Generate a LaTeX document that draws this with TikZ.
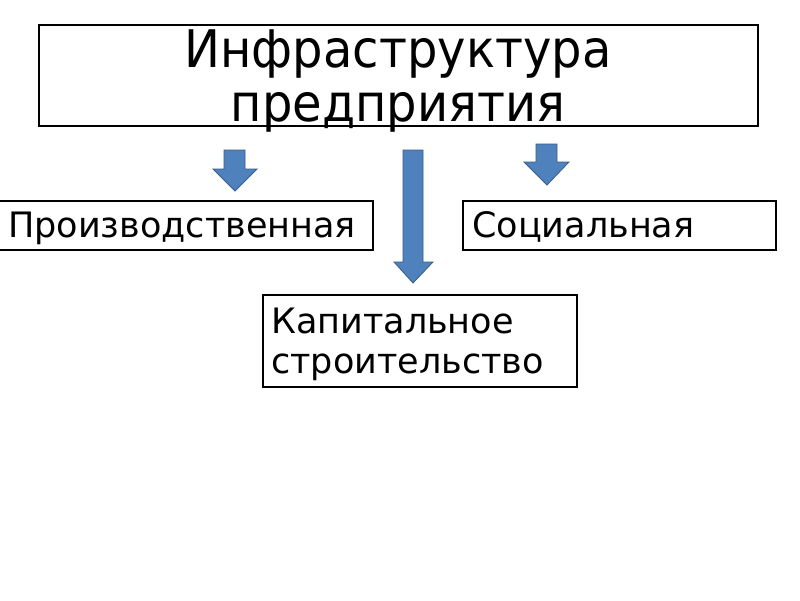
\documentclass[tikz,border=0pt]{standalone}
\usepackage{fontspec}
\setmainfont{DejaVu Sans}
\begin{document}
\begin{tikzpicture}[x=1pt,y=-1pt,
  box/.style={draw=black,line width=1.6pt,fill=none},
  big/.style={font=\fontsize{48}{53}\selectfont,inner sep=0pt,anchor=base},
  lbl/.style={font=\fontsize{35}{40}\selectfont,inner sep=0pt,anchor=base west},
  barrow/.style={fill=arrowfill,draw=arrowline,line width=0.8pt,line join=miter}]
\definecolor{arrowfill}{HTML}{4F81BD}
\definecolor{arrowline}{HTML}{385D8A}
\useasboundingbox (0,0) rectangle (800,600);
\fill[white] (0,0) rectangle (800,600);
% boxes
\draw[box] (39,25) rectangle (758,126);
\draw[box] (-3,201) rectangle (373,250);
\draw[box] (463,201) rectangle (776,250);
\draw[box] (263,295) rectangle (577,387);
% texts
\node[big] (t1) at (398,67) {\scalebox{1}[1.08]{Инфраструктура}};
\node[big] (t2) at (398,121) {\scalebox{1}[1.08]{предприятия}};
\node[lbl] (p) at (8,237) {Производственная};
\node[lbl] (s) at (472,237) {Социальная};
\node[lbl] (k1) at (271,333) {Капитальное};
\node[lbl] (k2) at (271,373) {строительство};
% block arrows
\draw[barrow] (224,150) -- (245,150) -- (245,169) -- (257,169) -- (235,191) -- (213,169) -- (224,169) -- cycle;
\draw[barrow] (403,150) -- (423,150) -- (423,262) -- (433,262) -- (413,283) -- (394,262) -- (403,262) -- cycle;
\draw[barrow] (536,144) -- (557,144) -- (557,162) -- (569,162) -- (547,185) -- (524,162) -- (536,162) -- cycle;
\end{tikzpicture}
\end{document}
